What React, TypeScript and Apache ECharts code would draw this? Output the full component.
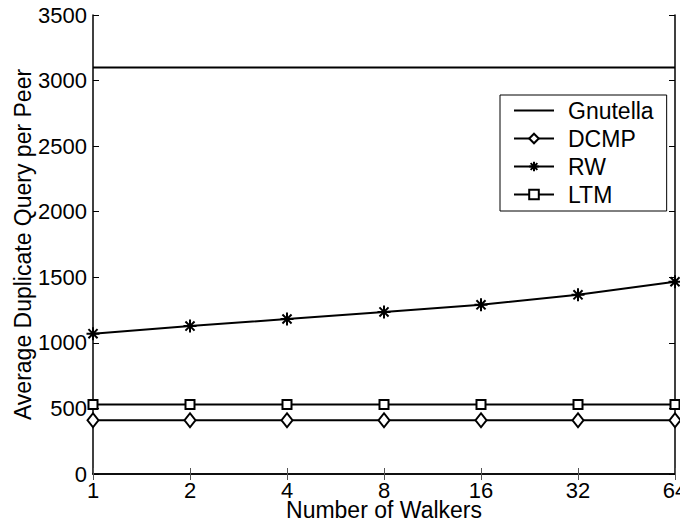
import React, { useEffect, useRef } from "react";
import * as echarts from "echarts";

const walkers = ["1", "2", "4", "8", "16", "32", "64"];
const gnutella = [3100, 3100, 3100, 3100, 3100, 3100, 3100];
const dcmp = [410, 410, 410, 410, 410, 410, 410];
const rw = [1070, 1128, 1182, 1236, 1290, 1366, 1466];
const ltm = [530, 530, 530, 530, 530, 530, 530];

const FONT = "Liberation Sans, Arial, sans-serif";
const ASTERISK =
  "path://M0,-10L0,10M-10,0L10,0M-7,-7L7,7M-7,7L7,-7M0,-10L0.01,-10";

export default function App() {
  const ref = useRef<HTMLDivElement>(null);
  useEffect(() => {
    if (!ref.current) return;
    const chart = echarts.init(ref.current, undefined, { renderer: "svg" });
    const lineStyle = { color: "#000", width: 2 };
    const tickLabel = { fontSize: 22, color: "#000", fontFamily: FONT };
    const nameStyle = { fontSize: 23, color: "#000", fontFamily: FONT };
    chart.setOption({
      animation: false,
      backgroundColor: "#fff",
      textStyle: { fontFamily: FONT },
      grid: {
        left: 93,
        top: 15,
        right: 13,
        bottom: 47,
        containLabel: false,
        outerBoundsMode: "none",
      },
      legend: {
        left: 500,
        top: 95,
        orient: "vertical",
        itemWidth: 40,
        itemHeight: 12,
        itemGap: 5,
        padding: [4, 13, 5, 13],
        borderColor: "#000",
        borderWidth: 1,
        backgroundColor: "#fff",
        textStyle: { ...nameStyle, padding: [0, 0, 0, 9] },
        data: ["Gnutella", "DCMP", "RW", "LTM"],
      },
      xAxis: [
        {
          type: "category",
          data: walkers,
          boundaryGap: false,
          name: "Number of Walkers",
          nameLocation: "middle",
          nameGap: 26,
          nameMoveOverlap: false,
          nameTextStyle: { ...nameStyle, lineHeight: 20 },
          axisLine: { lineStyle: { color: "#000", width: 1.5 } },
          axisTick: { inside: true, length: 6, lineStyle: { color: "#555" } },
          axisLabel: { ...tickLabel, lineHeight: 18, margin: 7 },
          splitLine: { show: false },
        },
        {
          type: "category",
          data: walkers,
          boundaryGap: false,
          position: "top",
          axisLine: { lineStyle: { color: "#000", width: 1.5 } },
          axisTick: { inside: true, length: 6, lineStyle: { color: "#555" } },
          axisLabel: { show: false },
        },
      ],
      yAxis: [
        {
          type: "value",
          min: 0,
          max: 3500,
          interval: 500,
          name: "Average Duplicate Query per Peer",
          nameLocation: "middle",
          nameGap: 59,
          nameMoveOverlap: false,
          nameTextStyle: nameStyle,
          axisLine: { show: true, lineStyle: { color: "#000", width: 1.5 } },
          axisTick: { show: true, inside: true, length: 6, lineStyle: { color: "#000" } },
          axisLabel: { ...tickLabel, margin: 6, formatter: (v: number) => String(v) },
          splitLine: { show: false },
        },
        {
          type: "value",
          min: 0,
          max: 3500,
          interval: 500,
          position: "right",
          axisLine: { show: true, lineStyle: { color: "#000", width: 1.5 } },
          axisTick: { show: true, inside: true, length: 6, lineStyle: { color: "#000" } },
          axisLabel: { show: false },
          splitLine: { show: false },
        },
      ],
      series: [
        {
          name: "Gnutella",
          type: "line",
          data: gnutella,
          symbol: "circle",
          symbolSize: 0,
          lineStyle,
          itemStyle: { color: "rgba(0,0,0,0)", borderWidth: 0 },
        },
        {
          name: "DCMP",
          type: "line",
          data: dcmp,
          symbol: "diamond",
          symbolSize: [11, 14],
          showAllSymbol: true,
          lineStyle,
          itemStyle: { color: "#fff", borderColor: "#000", borderWidth: 2 },
        },
        {
          name: "RW",
          type: "line",
          data: rw,
          symbol: ASTERISK,
          symbolSize: 13,
          showAllSymbol: true,
          lineStyle,
          itemStyle: { color: "#000", borderColor: "#000", borderWidth: 2 },
        },
        {
          name: "LTM",
          type: "line",
          data: ltm,
          symbol: "rect",
          symbolSize: 9,
          showAllSymbol: true,
          lineStyle,
          itemStyle: { color: "#fff", borderColor: "#000", borderWidth: 2 },
        },
      ],
    });
    return () => chart.dispose();
  }, []);
  return <div ref={ref} style={{ width: 688, height: 521, marginLeft: -8, marginTop: -8 }} />;
}
